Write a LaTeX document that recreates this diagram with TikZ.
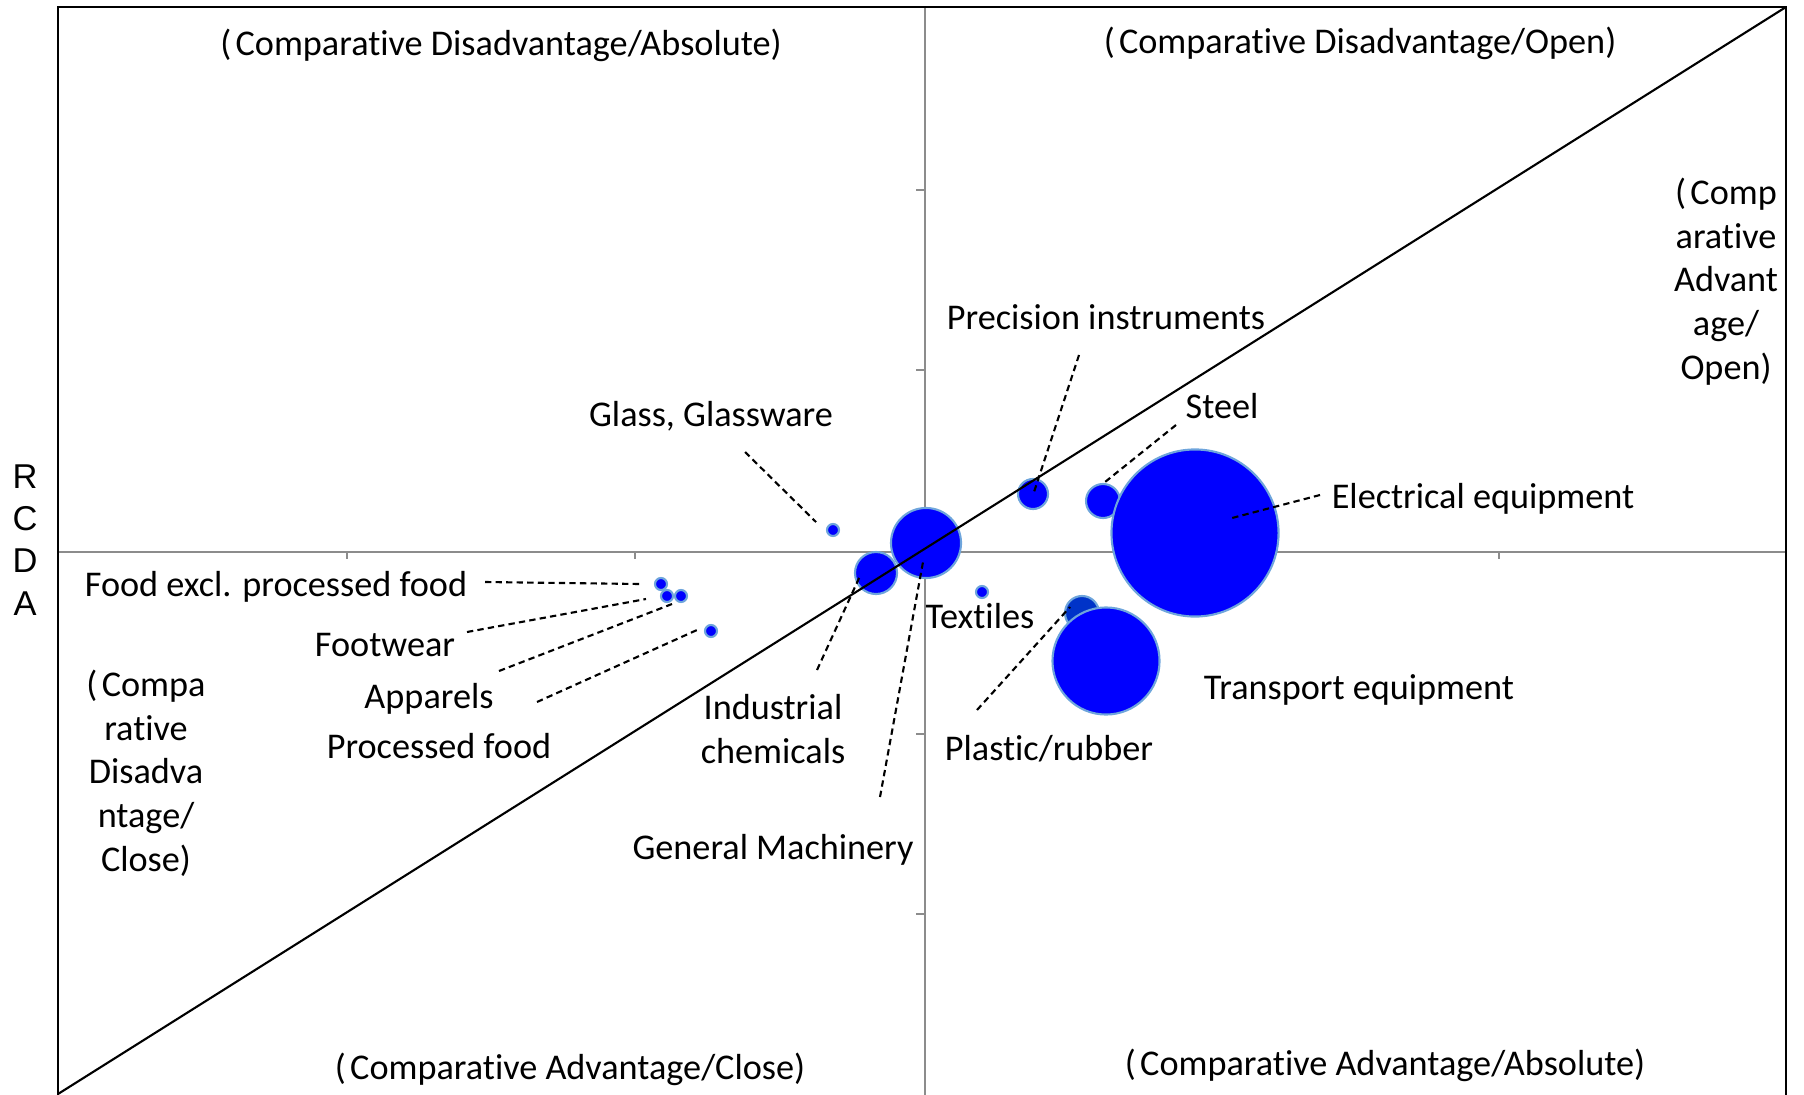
\documentclass[tikz,border=0pt]{standalone}
\usepackage{fontspec}
\setmainfont{Carlito}[Ligatures=NoCommon]
\newfontfamily\arialf{Liberation Sans}
\definecolor{bblue}{RGB}{0,0,255}
\definecolor{bdark}{RGB}{0,51,200}
\definecolor{bedge}{RGB}{110,165,220}
\definecolor{axgray}{RGB}{140,140,140}
\begin{document}
\begin{tikzpicture}[x=0.01cm, y=-0.01cm,
  lbl/.style={font=\fontsize{10.3}{12.4}\selectfont, inner sep=0pt, anchor=base},
  stack/.style={font=\fontsize{10.3}{12.4}\selectfont, inner sep=0pt, align=center, anchor=base},
  bubble/.style={circle, fill=bblue, draw=bedge, line width=0.6pt, inner sep=0pt},
  leader/.style={dash pattern=on 1.8pt off 1.2pt, line width=0.6pt},
  axis/.style={draw=axgray, line width=0.55pt}]
\useasboundingbox (0,0) rectangle (1804,1094);
\clip (0,0) rectangle (1804,1094);
% axes
\draw[axis] (58,552) -- (1786,552);
\draw[axis] (925,7) -- (925,1100);
\foreach \ty in {190,370,734,914} \draw[axis] (916,\ty) -- (925,\ty);
\foreach \tx in {347,635,1211,1499} \draw[axis] (\tx,552) -- (\tx,559);
% frame
\draw[line width=0.6pt] (58,1110) -- (58,7) -- (1786,7) -- (1786,1110);
% bubbles
\node[bubble, minimum size=0.12cm] (glass) at (833,530) {};
\node[bubble, minimum size=0.12cm] (foodx) at (661,584) {};
\node[bubble, minimum size=0.12cm] (footwear) at (667,596) {};
\node[bubble, minimum size=0.12cm] (apparels) at (681,596) {};
\node[bubble, minimum size=0.12cm] (procfood) at (711,631) {};
\node[bubble, minimum size=0.42cm] (indchem) at (876,573) {};
\node[bubble, minimum size=0.70cm] (genmach) at (926,543) {};
\node[bubble, minimum size=0.30cm] (precision) at (1033,494) {};
\node[bubble, minimum size=0.34cm] (steel) at (1103,501) {};
\node[bubble, minimum size=1.67cm] (electrical) at (1195,533) {};
\node[bubble, minimum size=0.12cm] (textiles) at (982,592) {};
\node[bubble, fill=bdark, minimum size=0.34cm] (plastic) at (1082,613) {};
\node[bubble, minimum size=1.07cm] (transport) at (1106,661) {};
% diagonal
\coordinate (diagA) at (58,1094);
\coordinate (diagB) at (1786,7);
\draw[line width=0.6pt] (diagA) -- (diagB);
% labels
\node[lbl] (qTL) at (501,56) {(\kern0.12em Comparative Disadvantage/Absolute)};
\node[lbl] (qTR) at (1360,54) {(\kern0.12em Comparative Disadvantage/Open)};
\node[lbl] (qBL) at (570,1079) {(\kern0.12em Comparative Advantage/Close)};
\node[lbl] (qBR) at (1385,1075) {(\kern0.12em Comparative Advantage/Absolute)};
\node[stack] (qR) at (1726,379) {(\kern0.12em Comp\\arative\\Advant\\age/\\Open)};
\node[stack] (qL) at (146,871) {(\kern0.12em Compa\\rative\\Disadva\\ntage/\\Close)};
\node[inner sep=0pt, anchor=base, align=center, font=\arialf\fontsize{9.8}{12}\selectfont] (ylab) at (25,615) {R\\C\\D\\A};
\node[lbl] (Lprecision) at (1106,329) {Precision instruments};
\node[lbl] (Lsteel) at (1222,418) {Steel};
\node[lbl] (Lelectrical) at (1483,508) {Electrical equipment};
\node[lbl] (Lglass) at (711,426) {Glass, Glassware};
\node[lbl] (Lfoodx) at (276,596) {Food excl. processed food};
\node[lbl] (Lfootwear) at (385,656) {Footwear};
\node[lbl] (Lapparels) at (429,708) {Apparels};
\node[lbl] (Lprocfood) at (439,758) {Processed food};
\node[stack] (Lindchem) at (773,763) {Industrial\\chemicals};
\node[lbl] (Lgenmach) at (773,859) {General Machinery};
\node[lbl] (Ltextiles) at (980,628) {Textiles};
\node[lbl] (Lplastic) at (1049,760) {Plastic/rubber};
\node[lbl] (Ltransport) at (1359,699) {Transport equipment};
% leaders
\coordinate (a1) at (745,452); \coordinate (b1) at (816,522);
\coordinate (a2) at (485,582); \coordinate (b2) at (640,584);
\coordinate (a3) at (467,632); \coordinate (b3) at (646,599);
\coordinate (a4) at (499,671); \coordinate (b4) at (672,604);
\coordinate (a5) at (537,702); \coordinate (b5) at (697,630);
\coordinate (a6) at (817,670); \coordinate (b6) at (860,576);
\coordinate (a7) at (880,797); \coordinate (b7) at (923,562);
\coordinate (a8) at (1079,355); \coordinate (b8) at (1033,495);
\coordinate (a9) at (1176,425); \coordinate (b9) at (1105,482);
\coordinate (a10) at (1320,495); \coordinate (b10) at (1232,518);
\coordinate (a11) at (977,710); \coordinate (b11) at (1070,607);
\foreach \i in {1,...,11} \draw[leader] (a\i) -- (b\i);
\end{tikzpicture}
\end{document}
